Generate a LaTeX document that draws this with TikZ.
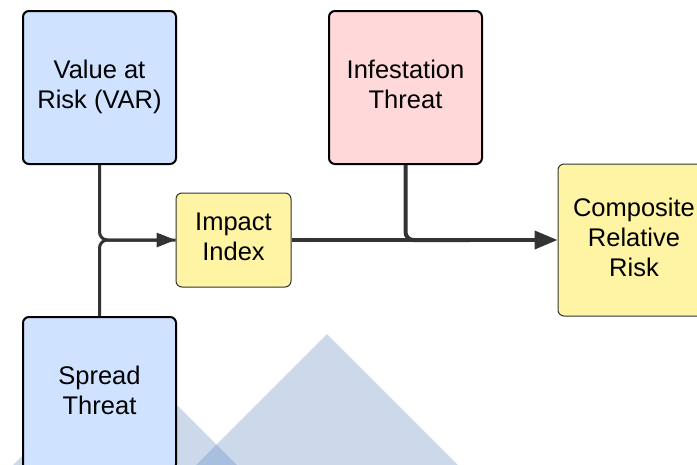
\documentclass[tikz,border=0pt]{standalone}
\usepackage{fontspec}
\setmainfont{Liberation Sans}
\usetikzlibrary{arrows.meta}
\definecolor{boxblue}{RGB}{207,226,255}
\definecolor{boxpink}{RGB}{255,217,217}
\definecolor{boxyellow}{RGB}{255,244,163}
\definecolor{wire}{RGB}{51,51,51}
\definecolor{shade}{RGB}{96,139,194}
\tikzset{
  box/.style={draw=black, line width=2pt, rounded corners=6pt, align=center,
    inner sep=0pt, font=\fontsize{25.5}{30}\selectfont,
    % deeper last line lifts the text block slightly inside its box
    execute at end node={\rule[-6pt]{0pt}{0pt}}},
  bluebox/.style={box, fill=boxblue, minimum width=153pt, minimum height=153pt},
  pinkbox/.style={box, fill=boxpink, minimum width=153pt, minimum height=153pt},
  yellowbox/.style={box, draw=wire, line width=1pt, fill=boxyellow},
  link/.style={draw=wire, line width=3pt, rounded corners=8pt},
  mainlink/.style={draw=wire, line width=4pt, rounded corners=8pt},
  tip/.style={-{Triangle[length=19pt,width=14pt]}},
  bigtip/.style={-{Triangle[length=23pt,width=18pt]}},
  backdrop/.style={fill=shade, fill opacity=0.33},
}
\begin{document}
\begin{tikzpicture}[x=1pt,y=-1pt]
\useasboundingbox (0,0) rectangle (697,464);
\clip (0,0) rectangle (697,464);

% backdrop shapes
\fill[backdrop] (327,334) -- (467,474) -- (187,474) -- cycle;
\fill[backdrop] (125,353) -- (246,474) -- (4,474) -- cycle;

% boxes
\node[bluebox] (var) at (99.5,87.5) {Value at\\Risk (VAR)};
\node[bluebox] (spread) at (99.5,393.5) {Spread\\Threat};
\node[pinkbox] (inf) at (405.5,87.5) {Infestation\\Threat};
\node[yellowbox, minimum width=115pt, minimum height=94pt] (impact) at (233.5,240) {Impact\\Index};
\node[yellowbox, minimum width=152pt, minimum height=152pt] (comp) at (634,240) {Composite\\Relative\\Risk};

% connectors
\coordinate (join) at (470,240);
\draw[link] (var.south) |- (impact.west);
\draw[link, tip] (spread.north) |- (impact.west);
\draw[mainlink] (inf.south) |- (join);
\draw[mainlink, bigtip] (impact.east) -- (comp.west);
\end{tikzpicture}
\end{document}
